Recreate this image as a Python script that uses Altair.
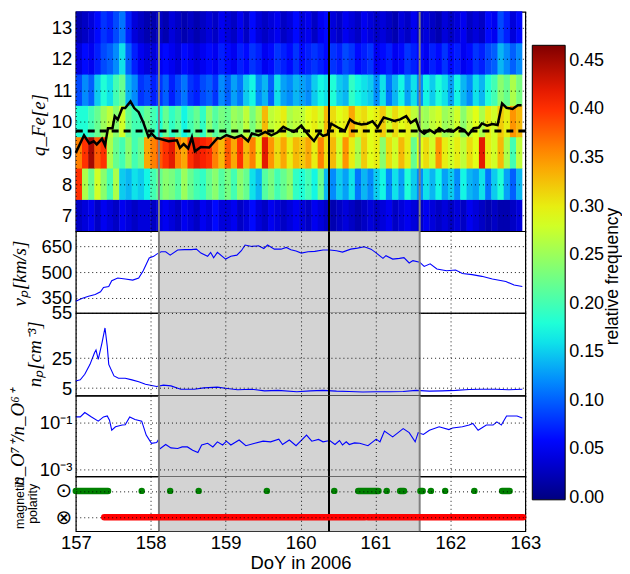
import altair as alt
import pandas as pd

# ---------------- data ----------------
DAY_TICKS = [157, 158, 159, 160, 161, 162, 163]
BOUNDARY_DAYS = [158.11, 161.59]
SHOCK_DAYS = [160.38]
MEAN_Q_REF = [9.70]

CHARGE_STATES = [7, 8, 9, 10, 11, 12, 13]
HEAT_T_START = 157.0
HEAT_T_END = 162.96

FREQ_Q7 = [0.03,0.04,0.05,0.03,0.05,0.04,0.03,0.05,0.04,0.03,0.04,0.04,
           0.03,0.04,0.05,0.04,0.03,0.05,0.04,0.03,0.05,0.04,0.06,0.04,
           0.04,0.05,0.03,0.04,0.06,0.04,0.03,0.05,0.04,0.03,0.04,0.05,
           0.04,0.03,0.05,0.04,0.03,0.02,0.03,0.04,0.03,0.02,0.03,0.04,
           0.03,0.04,0.05,0.03,0.04,0.05,0.04,0.03,0.05,0.04,0.03,0.04,
           0.03,0.04,0.03,0.05,0.04,0.03,0.02,0.03,0.02,0.02,0.03,0.04]
FREQ_Q8 = [0.40,0.26,0.22,0.28,0.24,0.20,0.26,0.15,0.14,0.16,0.15,0.17,
           0.20,0.22,0.24,0.23,0.21,0.25,0.22,0.20,0.19,0.22,0.24,0.21,
           0.23,0.20,0.24,0.22,0.16,0.14,0.21,0.23,0.20,0.22,0.24,0.19,
           0.18,0.20,0.17,0.22,0.14,0.12,0.15,0.13,0.16,0.11,0.14,0.12,
           0.15,0.17,0.12,0.16,0.13,0.18,0.15,0.12,0.16,0.14,0.17,0.13,
           0.15,0.12,0.17,0.14,0.13,0.16,0.11,0.15,0.18,0.13,0.10,0.14]
FREQ_Q9 = [0.36,0.40,0.45,0.38,0.40,0.26,0.22,0.20,0.24,0.20,0.22,0.34,
           0.36,0.38,0.40,0.42,0.36,0.34,0.40,0.42,0.41,0.40,0.36,0.33,
           0.38,0.34,0.40,0.33,0.36,0.30,0.42,0.35,0.31,0.34,0.30,0.33,
           0.32,0.34,0.30,0.36,0.31,0.33,0.28,0.35,0.30,0.26,0.32,0.29,
           0.30,0.24,0.31,0.28,0.33,0.30,0.22,0.29,0.31,0.28,0.35,0.30,
           0.28,0.30,0.27,0.31,0.29,0.42,0.30,0.28,0.33,0.26,0.20,0.27]
FREQ_Q10 = [0.18,0.18,0.20,0.22,0.25,0.27,0.24,0.28,0.22,0.20,0.20,0.22,
            0.20,0.18,0.22,0.19,0.21,0.17,0.20,0.22,0.19,0.24,0.21,0.23,
            0.22,0.25,0.24,0.27,0.23,0.26,0.33,0.27,0.28,0.30,0.26,0.27,
            0.27,0.29,0.30,0.28,0.33,0.31,0.29,0.30,0.34,0.30,0.31,0.29,
            0.30,0.32,0.28,0.31,0.29,0.30,0.27,0.26,0.25,0.27,0.28,0.25,
            0.26,0.28,0.24,0.27,0.29,0.26,0.30,0.28,0.32,0.30,0.35,0.33]
FREQ_Q11 = [0.09,0.12,0.10,0.15,0.18,0.16,0.20,0.22,0.14,0.12,0.08,0.09,
            0.07,0.08,0.10,0.07,0.09,0.11,0.08,0.07,0.09,0.10,0.08,0.12,
            0.10,0.13,0.11,0.15,0.17,0.12,0.14,0.10,0.16,0.13,0.12,0.14,
            0.13,0.12,0.15,0.17,0.16,0.18,0.15,0.14,0.19,0.17,0.16,0.15,
            0.12,0.16,0.11,0.14,0.17,0.13,0.16,0.12,0.17,0.15,0.18,0.16,
            0.13,0.17,0.14,0.12,0.16,0.14,0.18,0.20,0.24,0.22,0.26,0.23]
FREQ_Q12 = [0.04,0.06,0.05,0.07,0.09,0.10,0.12,0.16,0.10,0.07,0.05,0.04,
            0.04,0.05,0.06,0.05,0.04,0.06,0.05,0.04,0.05,0.06,0.05,0.07,
            0.06,0.05,0.07,0.06,0.08,0.07,0.05,0.06,0.08,0.07,0.06,0.08,
            0.06,0.07,0.08,0.07,0.06,0.08,0.07,0.09,0.08,0.06,0.07,0.08,
            0.05,0.06,0.07,0.05,0.06,0.08,0.07,0.06,0.05,0.07,0.06,0.08,
            0.06,0.07,0.05,0.06,0.08,0.07,0.09,0.10,0.14,0.12,0.10,0.12]
FREQ_Q13 = [0.02,0.03,0.04,0.06,0.08,0.07,0.09,0.11,0.07,0.04,0.03,0.02,
            0.02,0.03,0.02,0.04,0.03,0.02,0.03,0.02,0.03,0.04,0.03,0.05,
            0.04,0.03,0.05,0.03,0.06,0.04,0.03,0.04,0.05,0.03,0.04,0.06,
            0.04,0.05,0.03,0.05,0.06,0.04,0.03,0.05,0.04,0.03,0.05,0.04,
            0.03,0.04,0.03,0.02,0.04,0.03,0.05,0.03,0.04,0.03,0.02,0.04,
            0.03,0.04,0.05,0.03,0.04,0.03,0.06,0.05,0.09,0.07,0.04,0.06]
FREQ_ROWS = [FREQ_Q7, FREQ_Q8, FREQ_Q9, FREQ_Q10, FREQ_Q11, FREQ_Q12, FREQ_Q13]

MEAN_CHARGE = [(157.00,9.00),(157.11,9.56),(157.18,9.30),(157.24,9.37),(157.28,9.27),(157.35,9.45),
               (157.39,9.24),(157.43,9.79),(157.49,9.79),(157.52,10.17),(157.56,10.06),(157.62,10.43),
               (157.66,10.43),(157.73,10.64),(157.78,10.43),(157.84,10.30),(157.90,9.98),(157.97,9.51),
               (158.01,9.62),(158.07,9.47),(158.12,9.45),(158.24,9.37),(158.35,9.40),(158.39,9.16),
               (158.44,9.28),(158.50,9.14),(158.55,9.50),(158.59,9.05),(158.67,9.19),(158.78,9.17),
               (158.89,9.47),(158.93,9.45),(159.01,9.57),(159.12,9.48),(159.21,9.56),(159.30,9.37),
               (159.35,9.62),(159.44,9.56),(159.53,9.67),(159.61,9.56),(159.69,9.65),(159.77,9.83),
               (159.82,9.77),(159.91,9.67),(160.01,9.87),(160.10,9.59),(160.18,9.38),(160.25,9.64),
               (160.30,9.54),(160.36,9.59),(160.41,9.93),(160.50,9.81),(160.59,9.70),(160.66,10.07),
               (160.72,9.96),(160.81,9.91),(160.89,9.93),(160.96,10.01),(161.03,9.81),(161.11,10.13),
               (161.19,10.07),(161.25,10.02),(161.33,10.07),(161.41,10.17),(161.47,9.96),(161.54,10.07),
               (161.59,9.72),(161.65,9.61),(161.72,9.74),(161.79,9.63),(161.85,9.79),(161.92,9.68),
               (161.98,9.74),(162.04,9.68),(162.11,9.81),(162.18,9.74),(162.24,9.58),(162.31,9.79),
               (162.38,9.81),(162.42,9.94),(162.49,9.87),(162.56,9.92),(162.63,9.89),(162.69,10.58),
               (162.75,10.44),(162.83,10.40),(162.90,10.52),(162.95,10.52)]

PROTON_SPEED = [(157.00,329),(157.08,346),(157.17,358),(157.26,369),(157.33,385),(157.37,410),
                (157.44,416),(157.48,449),(157.56,465),(157.66,459),(157.76,453),(157.84,465),
                (157.90,508),(157.98,582),(158.04,592),(158.08,605),(158.14,619),(158.20,619),
                (158.26,599),(158.36,629),(158.45,631),(158.54,631),(158.61,634),(158.67,611),
                (158.76,592),(158.80,615),(158.84,584),(158.89,615),(159.00,576),(159.07,592),
                (159.15,599),(159.21,625),(159.26,658),(159.35,650),(159.44,654),(159.51,638),
                (159.56,658),(159.65,634),(159.74,634),(159.81,644),(159.87,631),(159.94,623),
                (160.01,611),(160.10,619),(160.19,621),(160.30,629),(160.39,629),(160.48,625),
                (160.56,617),(160.67,634),(160.76,640),(160.85,648),(160.94,634),(161.00,615),
                (161.10,580),(161.14,596),(161.23,576),(161.32,580),(161.38,584),(161.45,553),
                (161.50,567),(161.59,558),(161.65,533),(161.73,548),(161.82,518),(161.95,508),
                (162.07,512),(162.16,492),(162.29,485),(162.42,475),(162.56,459),(162.74,445),
                (162.85,424),(162.96,416)]

PROTON_DENSITY = [(157.00,9.8),(157.06,10.5),(157.12,14.2),(157.19,20.8),(157.25,28.5),(157.27,30.3),
                  (157.30,24.1),(157.35,35.1),(157.39,45.0),(157.42,32.9),(157.44,20.8),(157.51,13.1),
                  (157.57,11.6),(157.66,11.6),(157.75,10.5),(157.84,9.2),(157.93,7.6),(158.08,6.1),
                  (158.17,7.0),(158.27,6.5),(158.40,4.3),(158.58,4.3),(158.71,5.2),(158.89,5.7),
                  (159.02,4.8),(159.16,3.9),(159.34,4.3),(159.52,3.2),(159.70,3.5),(159.95,2.6),
                  (160.13,3.2),(160.30,3.5),(160.48,3.0),(160.65,2.8),(160.83,2.4),(161.01,2.6),
                  (161.19,2.6),(161.37,2.8),(161.54,3.5),(161.72,3.0),(161.89,3.2),(162.07,3.5),
                  (162.25,4.1),(162.42,4.3),(162.60,4.3),(162.78,3.9),(162.96,4.3)]

OXYGEN_RATIO = [(157.00,0.174),(157.06,0.174),(157.12,0.269),(157.21,0.174),(157.30,0.115),(157.37,0.174),
                (157.42,0.191),(157.45,0.126),(157.48,0.047),(157.53,0.066),(157.62,0.078),(157.66,0.081),
                (157.72,0.174),(157.79,0.135),(157.88,0.115),(157.94,0.029),(158.01,0.013),(158.08,0.014),
                (158.10,0.018),(158.12,0.0074),(158.20,0.0115),(158.27,0.0083),(158.36,0.0078),(158.42,0.0091),
                (158.49,0.0091),(158.56,0.0066),(158.63,0.0052),(158.68,0.011),(158.76,0.013),(158.83,0.0091),
                (158.89,0.015),(158.96,0.011),(159.01,0.016),(159.07,0.011),(159.18,0.018),(159.27,0.0102),
                (159.39,0.013),(159.50,0.016),(159.60,0.015),(159.71,0.0195),(159.76,0.0115),(159.85,0.018),
                (159.94,0.0102),(160.08,0.029),(160.15,0.016),(160.24,0.019),(160.30,0.015),(160.39,0.017),
                (160.46,0.0115),(160.52,0.017),(160.56,0.011),(160.61,0.015),(160.65,0.0115),(160.72,0.0135),
                (160.79,0.013),(160.90,0.0102),(161.01,0.0195),(161.06,0.015),(161.12,0.043),(161.23,0.0245),
                (161.37,0.055),(161.45,0.037),(161.53,0.015),(161.57,0.037),(161.64,0.031),(161.72,0.047),
                (161.85,0.066),(161.98,0.050),(162.03,0.059),(162.16,0.066),(162.25,0.078),(162.30,0.091),
                (162.37,0.047),(162.48,0.078),(162.57,0.078),(162.62,0.107),(162.68,0.078),(162.75,0.191),
                (162.89,0.191),(162.96,0.158)]

GREEN_RUNS = [(157.00,157.43),(160.77,161.04),(161.33,161.38),(161.60,161.63),(162.69,162.79)]
GREEN_DOTS = [157.88,158.26,158.64,159.55,160.45,161.15,161.74,161.93,162.32]
RED_RUNS = [(157.38,160.86),(160.90,162.97)]

CB_MIN = -0.002
CB_MAX = 0.466
CB_TICKS = [0.00,0.05,0.10,0.15,0.20,0.25,0.30,0.35,0.40,0.45]
JET = ['#000080','#0000ff','#0080ff','#14ffe2','#7bff7b','#e2ff14','#ff9700','#ff2100','#800000']

# ---------------- tables ----------------
n_bins = len(FREQ_Q7)
bw = (HEAT_T_END - HEAT_T_START) / n_bins
heat_rows = []
for q, vals in zip(CHARGE_STATES, FREQ_ROWS):
    for i, v in enumerate(vals):
        # tiny overlap between neighbouring cells hides anti-aliasing seams
        heat_rows.append({'t0': HEAT_T_START + i * bw,
                          't1': min(HEAT_T_START + (i + 1) * bw + 0.006, HEAT_T_END),
                          'q0': q - 0.5, 'q1': q + 0.52, 'f': v})
heat_df = pd.DataFrame(heat_rows)
mean_df = pd.DataFrame(MEAN_CHARGE, columns=['t', 'q'])
ref_df = pd.DataFrame({'q': MEAN_Q_REF})
vp_df = pd.DataFrame(PROTON_SPEED, columns=['t', 'v'])
np_df = pd.DataFrame(PROTON_DENSITY, columns=['t', 'n'])
ox_df = pd.DataFrame(OXYGEN_RATIO, columns=['t', 'r'])
bnd_df = pd.DataFrame({'t': BOUNDARY_DAYS})
shock_df = pd.DataFrame({'t': SHOCK_DAYS})
shade_df = pd.DataFrame({'a': [BOUNDARY_DAYS[0]], 'b': [BOUNDARY_DAYS[1]]})
gr_df = pd.DataFrame([{'t0': a, 't1': b, 'p': 1} for a, b in GREEN_RUNS])
gd_df = pd.DataFrame({'t': GREEN_DOTS, 'p': [1] * len(GREEN_DOTS)})
rr_df = pd.DataFrame([{'t0': a, 't1': b, 'p': 0} for a, b in RED_RUNS])

# ---------------- helpers ----------------
W = 451
FS = 18.5
xs = alt.Scale(domain=[157, 163], nice=False, zero=False)
jet_scale = alt.Scale(type='linear', domain=[CB_MIN, CB_MAX], range=JET, interpolate='rgb')
GRID = dict(grid=True, gridColor='black', gridDash=[1, 3], gridWidth=1, gridOpacity=0.9,
            domain=False, ticks=False, zindex=1)


def xax(show=False):
    if show:
        return alt.Axis(values=DAY_TICKS, title='DoY in 2006', labels=True, format='d',
                        labelFontSize=FS, labelPadding=2, labelFlush=False, labelOverlap=False,
                        titleFontSize=18.5, titleFontWeight='normal', titlePadding=2, **GRID)
    return alt.Axis(values=DAY_TICKS, title=None, labels=False, **GRID)


def yax(values, title, tx, ty, **extra):
    d = dict(values=values, labelFontSize=FS, labelPadding=4, labelOverlap=False,
             title=title, titleX=tx, titleY=ty, titleAngle=270, titleAlign='center',
             titleBaseline='middle', titleFont='Liberation Serif', titleFontStyle='italic',
             titleFontWeight='normal', titleFontSize=19, **GRID)
    d.update(extra)
    return alt.Axis(**d)


def shade(xa):
    return alt.Chart(shade_df).mark_rect(color='#d3d3d3').encode(
        x=alt.X('a:Q', scale=xs, axis=xa), x2='b:Q')


def vlines(xa):
    return [alt.Chart(bnd_df).mark_rule(color='#808080', strokeWidth=2).encode(
                x=alt.X('t:Q', scale=xs, axis=xa)),
            alt.Chart(shock_df).mark_rule(color='black', strokeWidth=2).encode(
                x=alt.X('t:Q', scale=xs, axis=xa))]


# ---------------- panel 1: Fe charge states + colour bar ----------------
xa = xax()
ys1 = alt.Scale(domain=[6.5, 13.5], nice=False, zero=False)
ya1 = yax([7, 8, 9, 10, 11, 12, 13], 'q_Fe[e]', -37, 113)
cbar_legend = alt.Legend(type='gradient', orient='none', legendX=458, legendY=33.5,
                         direction='vertical', gradientLength=456, gradientThickness=33,
                         gradientStrokeColor='black', gradientStrokeWidth=1, values=CB_TICKS,
                         format='.2f', labelFontSize=18, labelFont='Liberation Sans',
                         labelColor='black', labelOffset=4, labelOverlap=False, title=None)
heat = alt.Chart(heat_df).mark_rect().encode(
    x=alt.X('t0:Q', scale=xs, axis=xa), x2='t1:Q',
    y=alt.Y('q0:Q', scale=ys1, axis=ya1), y2='q1:Q',
    color=alt.Color('f:Q', scale=jet_scale, legend=cbar_legend))
mean_line = alt.Chart(mean_df).mark_line(color='black', strokeWidth=2.5).encode(
    x=alt.X('t:Q', scale=xs, axis=xa), y=alt.Y('q:Q', scale=ys1, axis=ya1))
cb_title_axis = alt.Axis(orient='right', labels=False, ticks=False, domain=False, grid=False,
                         title='relative frequency', titleX=87, titleY=265, titleAngle=270,
                         titleAlign='center', titleBaseline='middle', titleFontSize=17.5,
                         titleFont='Liberation Sans', titleFontStyle='normal', titleFontWeight='normal')
ref_line = alt.Chart(ref_df).mark_rule(color='black', strokeWidth=3, strokeDash=[7, 5]).encode(
    y=alt.Y('q:Q', scale=alt.Scale(domain=[6.5, 13.5], nice=False, zero=False), axis=cb_title_axis))
p1 = alt.layer(alt.layer(heat, *vlines(xa), mean_line), ref_line).resolve_scale(
    y='independent').properties(width=W, height=220)

# ---------------- panel 2: proton speed ----------------
ys2 = alt.Scale(domain=[261, 739], nice=False, zero=False)
ya2 = yax([350, 500, 650], 'vₚ[km/s]', -56, 42)
vp_line = alt.Chart(vp_df).mark_line(color='#0000ff', strokeWidth=1.1).encode(
    x=alt.X('t:Q', scale=xs, axis=xa), y=alt.Y('v:Q', scale=ys2, axis=ya2))
p2 = alt.layer(shade(xa), vp_line, *vlines(xa)).properties(width=W, height=82)

# ---------------- panel 3: proton density ----------------
ys3 = alt.Scale(domain=[0, 55], nice=False, zero=False)
ya3 = yax([5, 25, 55], 'nₚ[cm⁻³]', -41, 41)
np_line = alt.Chart(np_df).mark_line(color='#0000ff', strokeWidth=1.1).encode(
    x=alt.X('t:Q', scale=xs, axis=xa), y=alt.Y('n:Q', scale=ys3, axis=ya3))
p3 = alt.layer(shade(xa), np_line, *vlines(xa)).properties(width=W, height=83)

# ---------------- panel 4: O7+/O6+ ----------------
ys4 = alt.Scale(type='log', domain=[0.0005, 1.41], nice=False)
ya4 = yax([0.001, 0.1], 'n_O⁷⁺/n_O⁶⁺', -58, 42,
          labelExpr="datum.value < 0.01 ? '10⁻³' : '10⁻¹'")
ox_line = alt.Chart(ox_df).mark_line(color='#0000ff', strokeWidth=1.1).encode(
    x=alt.X('t:Q', scale=xs, axis=xa), y=alt.Y('r:Q', scale=ys4, axis=ya4))
p4 = alt.layer(shade(xa), ox_line, *vlines(xa)).properties(width=W, height=81)

# ---------------- panel 5: magnetic polarity ----------------
xb = xax(show=True)
ys5 = alt.Scale(domain=[-0.53, 1.55], nice=False, zero=False)
ya5 = yax([0, 1], ['magnetic', 'polarity'], -56, 27,
          labelExpr="datum.value > 0.5 ? '⊙' : '⊗'", labelFont='DejaVu Sans',
          labelFontSize=20, titleFont='Liberation Sans', titleFontStyle='normal',
          titleFontSize=12.5, titleLineHeight=13)
green_runs = alt.Chart(gr_df).mark_rule(color='#008000', strokeWidth=6.5, strokeCap='round').encode(
    x=alt.X('t0:Q', scale=xs, axis=xb), x2='t1:Q', y=alt.Y('p:Q', scale=ys5, axis=ya5))
green_dots = alt.Chart(gd_df).mark_circle(color='#008000', size=42, opacity=1).encode(
    x=alt.X('t:Q', scale=xs, axis=xb), y=alt.Y('p:Q', scale=ys5, axis=ya5))
red_runs = alt.Chart(rr_df).mark_rule(color='#ff0000', strokeWidth=6.5, strokeCap='round').encode(
    x=alt.X('t0:Q', scale=xs, axis=xb), x2='t1:Q', y=alt.Y('p:Q', scale=ys5, axis=ya5))
p5 = alt.layer(shade(xb), *vlines(xb), green_runs, green_dots, red_runs).properties(width=W, height=55)

chart = alt.vconcat(p1, p2, p3, p4, p5, spacing=0, bounds='flush').properties(
    padding={'left': 0, 'top': 1, 'right': 0, 'bottom': 0}
).configure(font='Liberation Sans').configure_view(stroke='black', strokeWidth=1.2).configure_axis(
    labelColor='black', titleColor='black', labelFont='Liberation Sans')

chart.save("out.html", embed_options={"renderer": "svg", "actions": False})
